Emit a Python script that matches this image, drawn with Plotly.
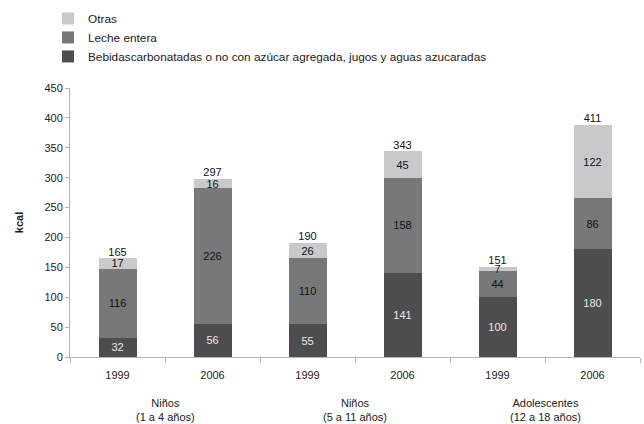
import plotly.graph_objects as go

years = ["1999", "2006", "1999", "2006", "1999", "2006"]
groups = ["Niños<br>(1 a 4 años)", "Niños<br>(5 a 11 años)", "Adolescentes<br>(12 a 18 años)"]
bebidas = [32, 56, 55, 141, 100, 180]
leche = [116, 226, 110, 158, 44, 86]
otras = [17, 16, 26, 45, 7, 122]
totales = [165, 297, 190, 343, 151, 411]

names = ["Bebidascarbonatadas o no con azúcar agregada, jugos y aguas azucaradas",
         "Leche entera", "Otras"]
colors = ["#4d4d4f", "#777879", "#c9c9cb"]
txtcolors = ["#e8e8e8", "#111111", "#111111"]

x = list(range(len(years)))
FONT = "Liberation Sans, Arial, sans-serif"

fig = go.Figure()
for vals, nm, c, tc in zip([bebidas, leche, otras], names, colors, txtcolors):
    fig.add_trace(go.Bar(
        x=x, y=vals, name=nm, marker=dict(color=c, line=dict(width=0)),
        width=0.4, text=[str(v) for v in vals], textposition="inside",
        insidetextanchor="middle", textangle=0, constraintext="none",
        textfont=dict(color=tc, size=11, family=FONT),
    ))

stack_top = [a + b + c for a, b, c in zip(bebidas, leche, otras)]
fig.add_trace(go.Scatter(
    x=x, y=stack_top, mode="text", text=[str(t) for t in totales],
    textposition="top center", textfont=dict(size=11, color="#111111", family=FONT),
    showlegend=False, cliponaxis=False,
))

for gi, g in enumerate(groups):
    fig.add_annotation(x=2 * gi + 0.5, y=-0.14, xref="x", yref="paper",
                       text=g, showarrow=False, yanchor="top",
                       font=dict(size=11, color="#222222", family=FONT))

fig.update_layout(
    width=644, height=424, barmode="stack",
    margin=dict(l=70, r=4, t=85, b=67),
    paper_bgcolor="white", plot_bgcolor="white",
    font=dict(family=FONT, size=11, color="#222222"),
    legend=dict(x=-0.0386, y=1.3125, xanchor="left", yanchor="top",
                traceorder="reversed", font=dict(size=11.8, family=FONT),
                itemwidth=30, bgcolor="rgba(0,0,0,0)"),
    xaxis=dict(range=[-0.5, 5.5], tickvals=x, ticktext=years, ticks="",
               showline=True, linecolor="#b5b5b5", linewidth=1,
               showgrid=False, zeroline=False, ticklabelstandoff=8,
               tickfont=dict(size=11, color="#222222"),
               minor=dict(tickvals=[i - 0.5 for i in range(len(years) + 1)],
                          ticks="outside", ticklen=5, tickcolor="#b5b5b5")),
    yaxis=dict(range=[0, 450], dtick=50, ticks="outside", ticklen=4,
               tickcolor="#b5b5b5", showline=True, linecolor="#b5b5b5",
               showgrid=False, zeroline=False,
               tickfont=dict(size=11, color="#222222"),
               title=dict(text="<b>kcal</b>", font=dict(size=11), standoff=18)),
)

fig.write_html("out.html", config={"displayModeBar": False},
               post_script="document.body.style.margin='0';document.body.style.overflow='hidden';")
